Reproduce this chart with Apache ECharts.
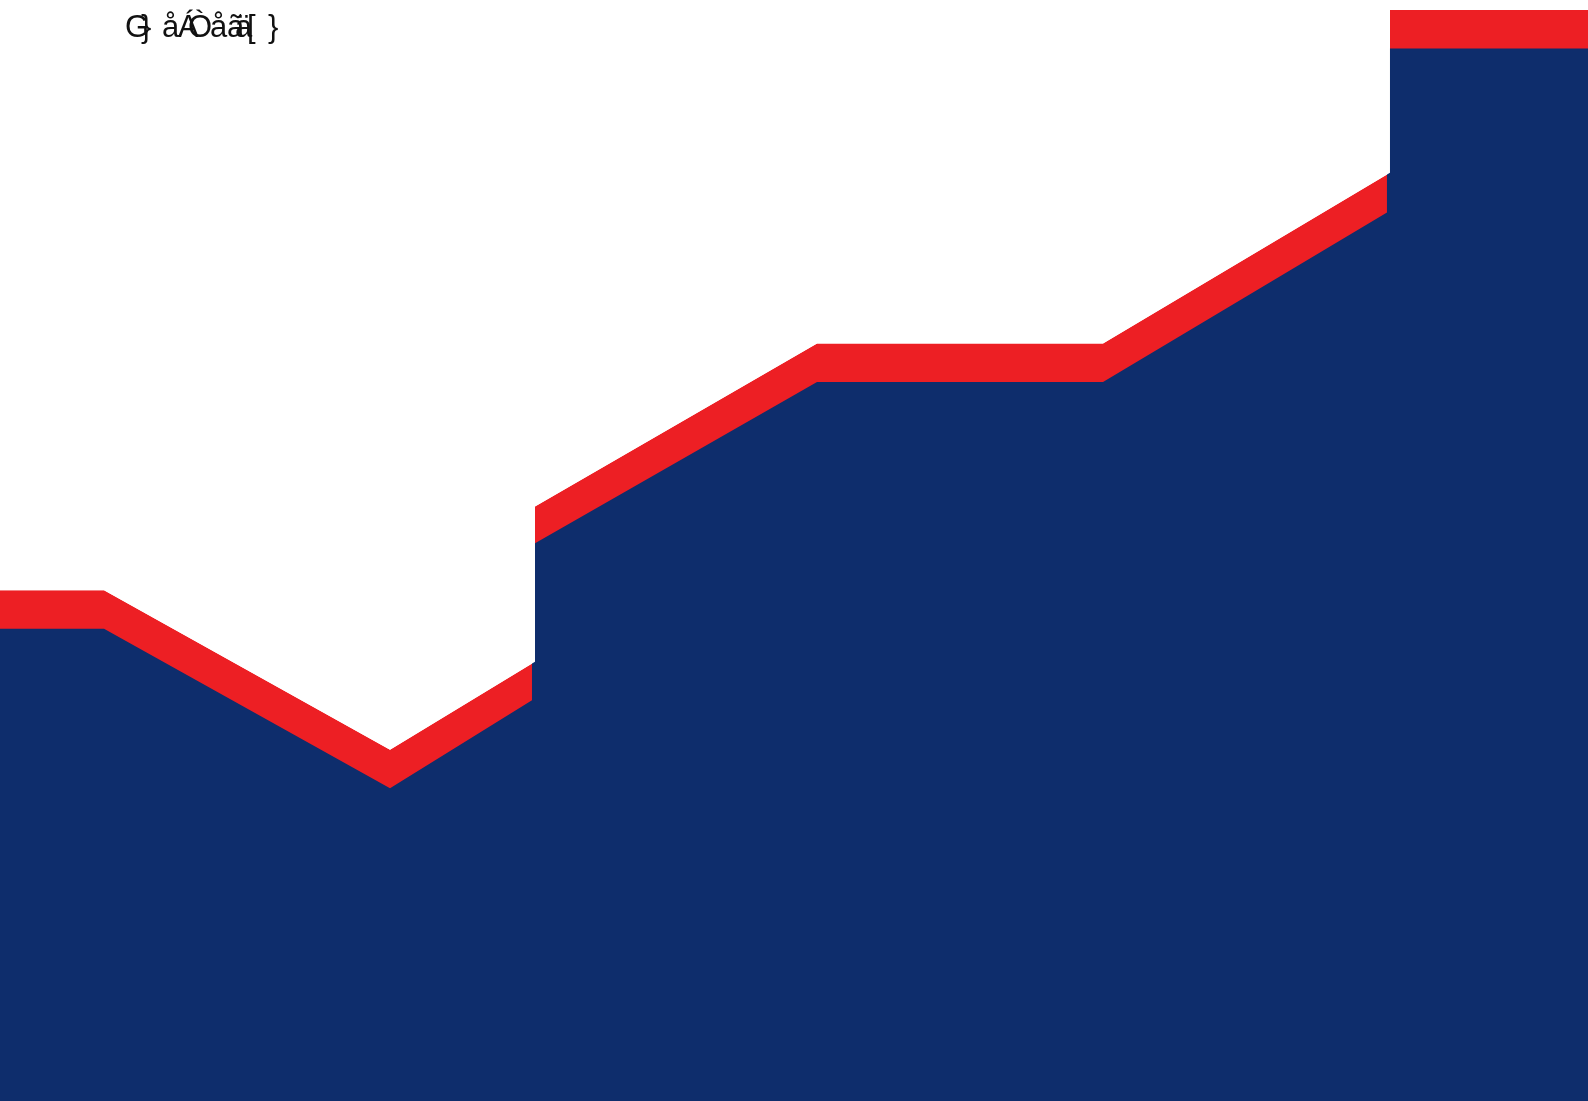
<!DOCTYPE html>
<html>
<head>
<meta charset="utf-8">
<script src="https://cdn.jsdelivr.net/npm/echarts@6/dist/echarts.min.js"></script>
<style>
  html, body { margin: 0; padding: 0; background: #fff; }
  #chart { width: 1588px; height: 1101px; }
</style>
</head>
<body>
<div id="chart"></div>
<script>
// values (x and y both on a 0-100 scale)
const redX = [0, 6.55, 24.56, 33.69, 33.69, 51.45, 69.46, 87.53, 87.53, 100];
const redTop = [46.4, 46.4, 31.9, 39.9, 54.0, 68.8, 68.8, 84.3, 99.1, 99.1];
const navyX = [0, 6.55, 24.56, 33.5, 33.5, 51.45, 69.46, 87.34, 87.34, 100];
const navyTop = [42.9, 42.9, 28.4, 36.4, 50.5, 65.3, 65.3, 80.7, 95.6, 95.6];

// the garbled title, drawn glyph by glyph so the pieces overlap like the original
const titleGlyphs = ['G', '}', 'å', 'Á', 'Ò', 'å', 'ã', 'ä', '[', '}'];
const titleOffsets = [0, 16, 37, 53, 63, 85, 102, 110, 122, 143];

const zip = (xs, ys) => xs.map((x, i) => [x, ys[i]]);

const chart = echarts.init(document.getElementById('chart'));

const areaLine = (name, data, color, origin, z) => ({
  name: name,
  type: 'line',
  data: data,
  z: z,
  showSymbol: false,
  symbol: 'none',
  silent: true,
  lineStyle: { width: 0, opacity: 0 },
  areaStyle: { color: color, opacity: 1, origin: origin },
  animation: false
});

const option = {
  backgroundColor: '#fff',
  graphic: [{
    type: 'group',
    left: 125,
    top: 13,
    z: 100,
    zlevel: 1,
    children: titleGlyphs.map((g, i) => ({
      type: 'text',
      x: titleOffsets[i],
      y: 0,
      z: 100,
      zlevel: 1,
      style: {
        text: g,
        font: '31px "Liberation Sans", Arial, sans-serif',
        fill: '#111',
        verticalAlign: 'top'
      }
    }))
  }],
  grid: { left: 0, right: 0, top: 0, bottom: 0 },
  xAxis: { type: 'value', min: 0, max: 100, show: false },
  yAxis: { type: 'value', min: 0, max: 100, show: false },
  series: [
    areaLine('red', zip(redX, redTop), '#ED1F24', 'start', 1),
    areaLine('navy', zip(navyX, navyTop), '#0E2D6C', 'start', 2),
    areaLine('white', zip(redX, redTop), '#FFFFFF', 'end', 3)
  ]
};

chart.setOption(option);
window.addEventListener('resize', () => chart.resize());
</script>
</body>
</html>
